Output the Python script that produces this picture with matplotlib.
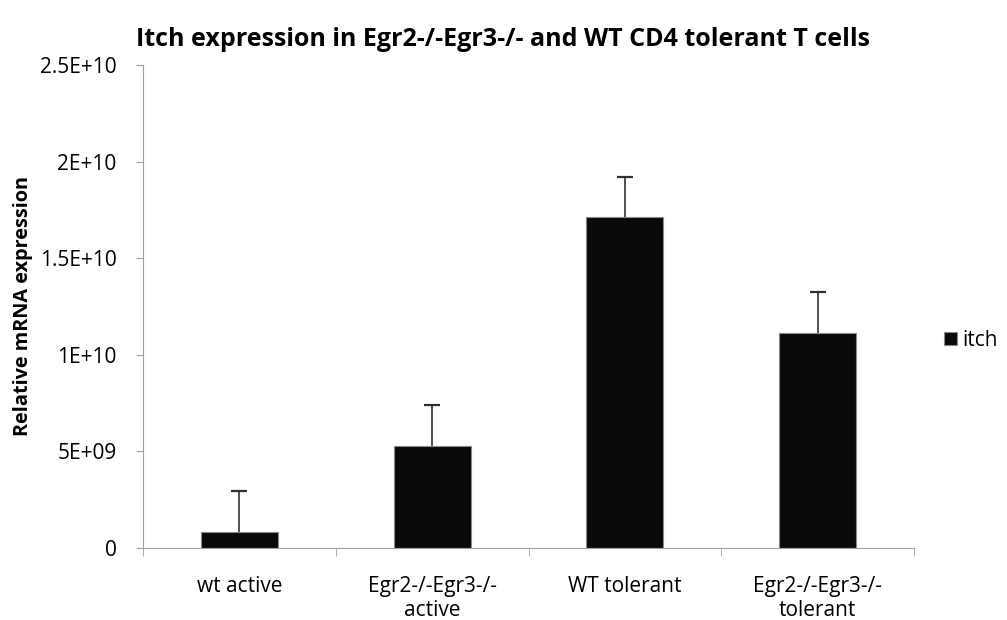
import numpy as np
import matplotlib.pyplot as plt
from matplotlib.ticker import FixedLocator

plt.rcParams['font.family'] = ['Open Sans', 'DejaVu Sans']

categories = ['wt active', 'Egr2-/-Egr3-/-\nactive', 'WT tolerant', 'Egr2-/-Egr3-/-\ntolerant']
values = [0.83e9, 5.28e9, 17.13e9, 11.13e9]
errors = [2.12e9, 2.12e9, 2.07e9, 2.12e9]
yticks = [0, 5e9, 1e10, 1.5e10, 2e10, 2.5e10]
ytick_labels = ['0', '5E+09', '1E+10', '1.5E+10', '2E+10', '2.5E+10']

fig = plt.figure(figsize=(10.07, 6.2), dpi=100)
ax = fig.add_axes([143 / 1007, 1 - 548 / 620, (914 - 143) / 1007, (548 - 65) / 620])

x = np.arange(len(categories))
vals = np.array(values)
errs = np.array(errors)
ax.bar(x, vals, width=0.4, color='#0a0a0a', edgecolor='#8a8a8a', linewidth=0.8,
       label='itch', zorder=2)
# upper-only error bars: stem + cap
ax.errorbar(x, vals, yerr=[np.zeros(len(errs)), errs], fmt='none',
            ecolor='#505050', elinewidth=1.4, capsize=0, zorder=3)
ax.plot(x, vals + errs, linestyle='none', marker='_', markersize=12,
        markeredgewidth=1.6, color='#303030', zorder=3)

ax.set_xlim(-0.5, len(categories) - 0.5)
ax.set_ylim(0, 2.5e10)
ax.set_yticks(yticks)
ax.set_yticklabels(ytick_labels)
ax.set_xticks(x)
ax.set_xticklabels(categories)
ax.xaxis.set_minor_locator(FixedLocator(np.arange(len(categories) + 1) - 0.5))
ax.tick_params(axis='x', which='major', length=0, pad=20, labelsize=15)
ax.tick_params(axis='x', which='minor', length=6, color='#a0a0a0', direction='out')
ax.tick_params(axis='y', length=5, color='#a0a0a0', labelsize=15, pad=14)

for s in ['top', 'right']:
    ax.spines[s].set_visible(False)
for s in ['left', 'bottom']:
    ax.spines[s].set_color('#a0a0a0')

ax.set_ylabel('Relative mRNA expression', fontsize=14.3, fontweight='bold')
ax.yaxis.set_label_coords(-0.143, 0.5)
fig.text(0.5, 0.937, 'Itch expression in Egr2-/-Egr3-/- and WT CD4 tolerant T cells',
         ha='center', va='center', fontsize=18, fontweight='bold')

ax.legend(loc='center left', bbox_to_anchor=(1.015, 0.43), frameon=False,
          fontsize=15, handlelength=0.6, handleheight=0.6, handletextpad=0.25)

fig.savefig('out.png', dpi=100)
